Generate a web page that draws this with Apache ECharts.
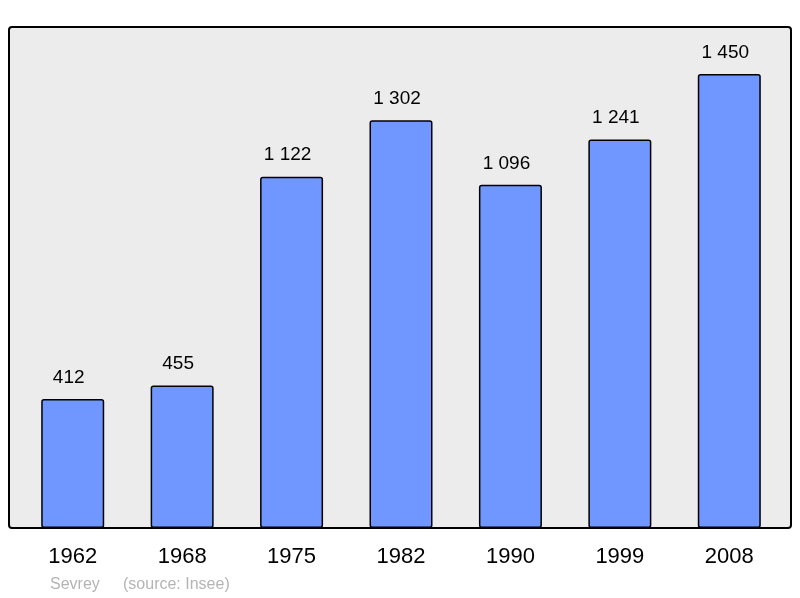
<!DOCTYPE html>
<html>
<head>
<meta charset="utf-8">
<script src="https://cdn.jsdelivr.net/npm/echarts@6/dist/echarts.min.js"></script>
<style>
html, body { margin: 0; padding: 0; background: #fff; }
#chart { width: 800px; height: 598px; }
</style>
</head>
<body>
<div id="chart"></div>
<script>
var years = ['1962', '1968', '1975', '1982', '1990', '1999', '2008'];
var population = [412, 455, 1122, 1302, 1096, 1241, 1450];
var placeName = 'Sevrey';
var sourceText = '(source: Insee)';

function fmt(v) {
    return String(v).replace(/\B(?=(\d{3})+(?!\d))/g, ' ');
}

var chart = echarts.init(document.getElementById('chart'));
chart.setOption({
    animation: false,
    backgroundColor: '#ffffff',
    graphic: [
        {
            type: 'rect',
            z: -10,
            shape: { x: 9, y: 27, width: 782, height: 501, r: 3 },
            style: { fill: '#ececec', stroke: '#000', lineWidth: 2 }
        },
        {
            type: 'text',
            left: 50,
            top: 577,
            style: { text: placeName, fill: '#b4b4b4', font: '16px "Liberation Sans", Arial, sans-serif' }
        },
        {
            type: 'text',
            left: 123,
            top: 577,
            style: { text: sourceText, fill: '#b4b4b4', font: '16px "Liberation Sans", Arial, sans-serif' }
        }
    ],
    grid: { left: 18, top: 27, width: 766, height: 501 },
    xAxis: {
        type: 'category',
        data: years,
        axisLine: { show: false },
        axisTick: { show: false },
        axisLabel: {
            color: '#000',
            fontSize: 22,
            fontFamily: 'Liberation Sans',
            margin: 18
        }
    },
    yAxis: {
        type: 'value',
        min: 0,
        max: 1600,
        show: false
    },
    series: [{
        type: 'bar',
        data: population,
        barWidth: 63,
        itemStyle: {
            color: '#7096ff',
            borderColor: '#000',
            borderWidth: 1.5,
            borderRadius: 2
        },
        label: {
            show: true,
            position: 'top',
            distance: 12,
            offset: [-4, 0],
            color: '#000',
            fontSize: 19,
            fontFamily: 'Liberation Sans',
            formatter: function (p) { return fmt(p.value); }
        }
    }]
});
</script>
</body>
</html>
